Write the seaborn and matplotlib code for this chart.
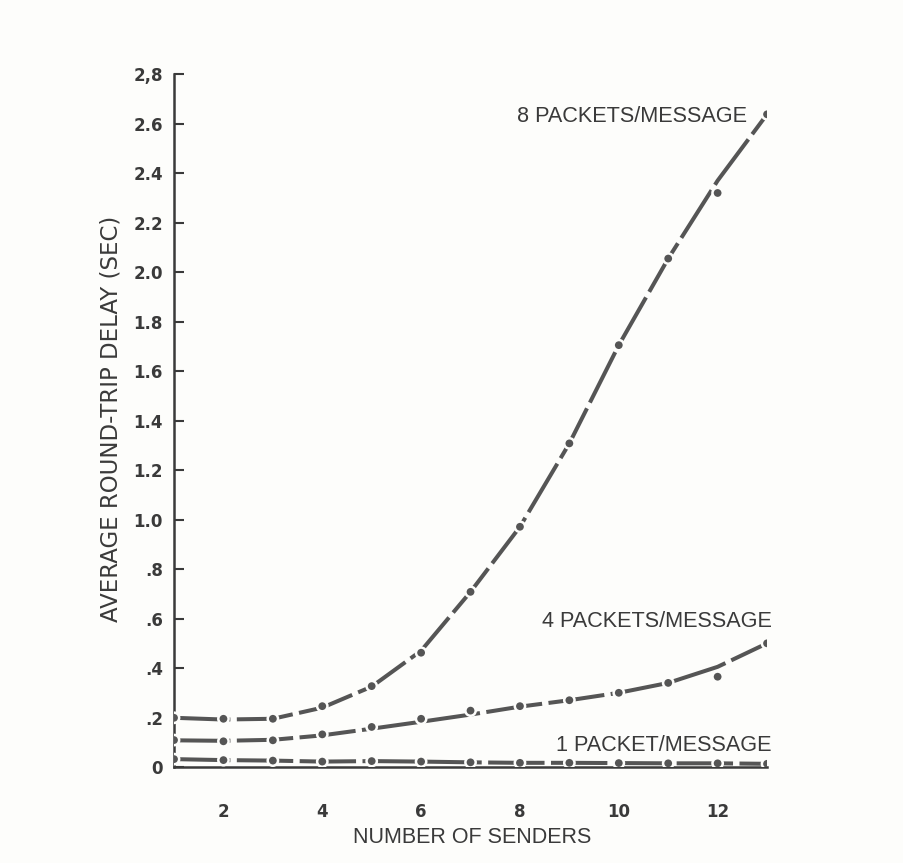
import numpy as np
import pandas as pd
import matplotlib
matplotlib.use("Agg")
import matplotlib.pyplot as plt
import seaborn as sns
from matplotlib import font_manager

# ---- data ----
senders = [1, 2, 3, 4, 5, 6, 7, 8, 9, 10, 11, 12, 13]
one_pkt_pts = [0.032, 0.028, 0.026, 0.022, 0.024, 0.022, 0.019, 0.017, 0.017, 0.016, 0.015, 0.015, 0.013]
one_pkt_curve = [0.032, 0.028, 0.026, 0.022, 0.024, 0.022, 0.019, 0.017, 0.017, 0.016, 0.015, 0.015, 0.013]
four_pkt_pts = [0.109, 0.104, 0.108, 0.132, 0.162, 0.195, 0.228, 0.246, 0.270, 0.300, 0.340, 0.365, 0.500]
four_pkt_curve = [0.108, 0.106, 0.110, 0.128, 0.155, 0.183, 0.212, 0.244, 0.270, 0.300, 0.340, 0.405, 0.500]
eight_pkt_pts = [0.199, 0.195, 0.195, 0.246, 0.327, 0.462, 0.708, 0.971, 1.308, 1.705, 2.055, 2.320, 2.638]
eight_pkt_curve = [0.199, 0.192, 0.195, 0.240, 0.325, 0.470, 0.708, 0.971, 1.308, 1.705, 2.055, 2.370, 2.638]

series_names = ["1 PACKET/MESSAGE", "4 PACKETS/MESSAGE", "8 PACKETS/MESSAGE"]
y_ticks = [0, 0.2, 0.4, 0.6, 0.8, 1.0, 1.2, 1.4, 1.6, 1.8, 2.0, 2.2, 2.4, 2.6, 2.8]
y_tick_labels = ["0", ".2", ".4", ".6", ".8", "1.0", "1.2", "1.4", "1.6", "1.8",
                 "2.0", "2.2", "2.4", "2.6", "2,8"]
x_ticks = [2, 4, 6, 8, 10, 12]
x_tick_labels = ["2", "4", "6", "8", "10", "12"]

curves = pd.DataFrame({
    "senders": senders * 3,
    "delay": one_pkt_curve + four_pkt_curve + eight_pkt_curve,
    "series": sum([[n] * len(senders) for n in series_names], []),
})
points = pd.DataFrame({
    "senders": senders * 3,
    "delay": one_pkt_pts + four_pkt_pts + eight_pkt_pts,
    "series": sum([[n] * len(senders) for n in series_names], []),
})

sns.set_theme(style="white")
plt.rcParams["font.family"] = ["DejaVu Sans"]

installed = {f.name for f in font_manager.fontManager.ttflist}
if "Liberation Sans Narrow" in installed:
    ylab_family, ylab_size = "Liberation Sans Narrow", 19.5
else:
    ylab_family, ylab_size = "DejaVu Sans", 16.5

ink = "#3a3a3a"
line_col = "#555555"
paper = "#fdfdfb"
pal = {n: line_col for n in series_names}

fig = plt.figure(figsize=(9.04, 8.63), dpi=100)
fig.patch.set_facecolor(paper)
ax = fig.add_axes([0.1925, 0.1112, 0.8485 - 0.1925, 0.914 - 0.1112])
ax.set_facecolor(paper)

sns.lineplot(data=curves, x="senders", y="delay", hue="series", palette=pal,
             linewidth=2.9, legend=False, ax=ax, zorder=2, dashes=False)
for line in ax.get_lines():
    line.set_dashes([14, 1.6])
sns.scatterplot(data=points, x="senders", y="delay", hue="series", palette=pal,
                s=55, edgecolor=paper, linewidth=1.8, legend=False, ax=ax, zorder=3)

ax.set_xlim(1, 13)
ax.set_ylim(0, 2.8)
ax.set_yticks(y_ticks)
ax.set_yticklabels(y_tick_labels)
ax.set_xticks(x_ticks)
ax.set_xticklabels(x_tick_labels)
ax.set_xlabel("")
ax.set_ylabel("")

for s in ["top", "right"]:
    ax.spines[s].set_visible(False)
for s in ["left", "bottom"]:
    ax.spines[s].set_color(ink)
    ax.spines[s].set_linewidth(1.8)

ax.tick_params(axis="y", direction="in", length=7, width=1.5, color=ink,
               labelsize=12, labelcolor=ink, pad=8, left=True)
ax.tick_params(axis="x", length=0, labelsize=12, labelcolor=ink, pad=26)
for lbl in ax.get_xticklabels() + ax.get_yticklabels():
    lbl.set_fontweight("bold")

ann = dict(ha="right", va="center", fontsize=15.6, color=ink,
           family=["Liberation Sans", "DejaVu Sans"])
ax.text(12.6, 2.63, "8 PACKETS/MESSAGE", **ann)
ax.text(13.1, 0.59, "4 PACKETS/MESSAGE", **ann)
ax.text(13.1, 0.089, "1 PACKET/MESSAGE", **ann)

fig.text(0.1228, 0.5145, "AVERAGE ROUND-TRIP DELAY (SEC)", rotation=90,
         ha="center", va="center", fontsize=ylab_size, color=ink,
         family=[ylab_family, "DejaVu Sans"])
fig.text(0.5227, 0.029, "NUMBER OF SENDERS", ha="center", va="center",
         fontsize=15.5, color=ink, family=["Liberation Sans", "DejaVu Sans"])

fig.savefig("out.png", dpi=100, facecolor=fig.get_facecolor())
